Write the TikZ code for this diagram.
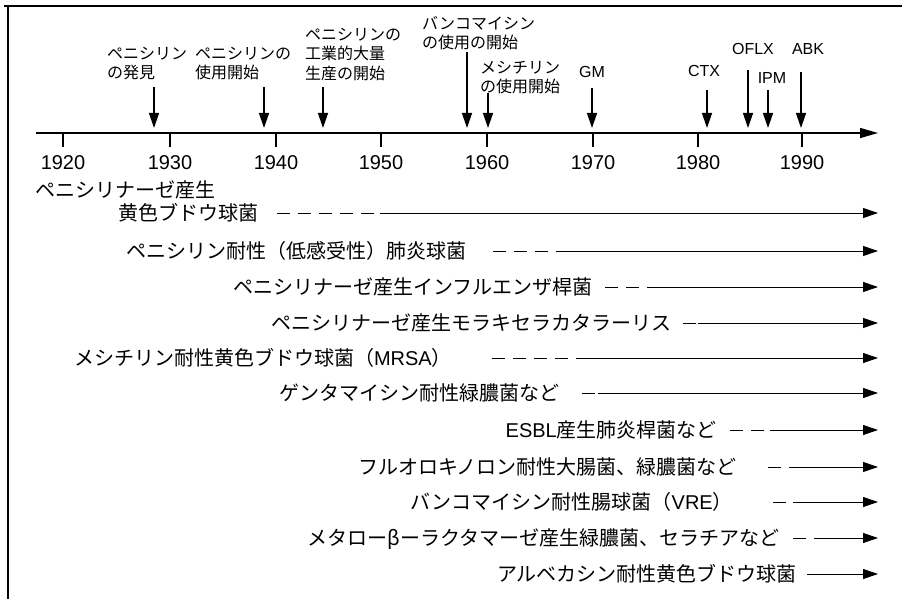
\documentclass[tikz,border=0pt]{standalone}
\usepackage{fontspec}
\setmainfont{Noto Sans CJK JP}
\newfontfamily\lat{Liberation Sans}
\usetikzlibrary{arrows.meta}
\begin{document}
\begin{tikzpicture}[x=1pt,y=-1pt,
  tipa/.style={-{Triangle[length=15pt,width=10pt]}},
  evarrow/.style={draw, line width=1.3pt, tipa},
  axisline/.style={draw, line width=1.4pt, -{Triangle[length=18pt,width=10pt]}},
  tick/.style={draw, line width=1.2pt},
  yearlab/.style={anchor=center, inner sep=0, font=\lat\fontsize{20}{23}\selectfont},
  rowlab/.style={anchor=base east, inner sep=0, font=\fontsize{20}{23}\selectfont},
  evlab/.style={anchor=north west, inner sep=0, align=left, font=\fontsize{16}{19.5}\selectfont},
  evlat/.style={anchor=center, inner sep=0, font=\lat\fontsize{16}{19}\selectfont},
  dashpart/.style={draw, line width=1pt, dash pattern=on 13pt off 8pt},
  solidpart/.style={draw, line width=1pt, -{Triangle[length=15pt,width=10pt]}},
  frameline/.style={draw, line width=1.2pt}
]
\useasboundingbox (0,0) rectangle (902,599);
% frame
\coordinate (fa) at (4,6);
\coordinate (fb) at (902,6);
\coordinate (fc) at (8,6);
\coordinate (fd) at (8,599);
\path[frameline] (fa) -- (fb);
\path[frameline] (fc) -- (fd);

% axis
\coordinate (ax0) at (36,133);
\coordinate (ax1) at (878,133);
\path[axisline] (ax0) -- (ax1);
\foreach \yr/\x in {1920/63,1930/170,1940/276,1950/381,1960/487,1970/593,1980/698,1990/802}{
  \coordinate (t\yr) at (\x,133);
  \coordinate (tb\yr) at (\x,147);
  \path[tick] (t\yr) -- (tb\yr);
  \node[yearlab] (y\yr) at (\x,163) {\yr};
}

% events
\node[evlab] (l1) at (107,47) {ペニシリン\\の発見};
\coordinate (a1s) at (154,87); \coordinate (a1e) at (154,128);
\path[evarrow] (a1s) -- (a1e);

\node[evlab] (l2) at (195,47) {ペニシリンの\\使用開始};
\coordinate (a2s) at (264,87); \coordinate (a2e) at (264,128);
\path[evarrow] (a2s) -- (a2e);

\node[evlab] (l3) at (305,28) {ペニシリンの\\工業的大量\\生産の開始};
\coordinate (a3s) at (323,87); \coordinate (a3e) at (323,128);
\path[evarrow] (a3s) -- (a3e);

\node[evlab] (l4) at (422,16) {バンコマイシン\\の使用の開始};
\coordinate (a4s) at (467,52); \coordinate (a4e) at (467,128);
\path[evarrow] (a4s) -- (a4e);

\node[evlab] (l5) at (480,61) {メシチリン\\の使用開始};
\coordinate (a5s) at (488,93); \coordinate (a5e) at (488,128);
\path[evarrow] (a5s) -- (a5e);

\node[evlat] (l6) at (592,72) {GM};
\coordinate (a6s) at (592,88); \coordinate (a6e) at (592,128);
\path[evarrow] (a6s) -- (a6e);

\node[evlat] (l7) at (704,71) {CTX};
\coordinate (a7s) at (707,90); \coordinate (a7e) at (707,128);
\path[evarrow] (a7s) -- (a7e);

\node[evlat] (l8) at (753,49) {OFLX};
\coordinate (a8s) at (748,70); \coordinate (a8e) at (748,128);
\path[evarrow] (a8s) -- (a8e);

\node[evlat] (l9) at (772,78) {IPM};
\coordinate (a9s) at (768,90); \coordinate (a9e) at (768,128);
\path[evarrow] (a9s) -- (a9e);

\node[evlat] (l10) at (808,49) {ABK};
\coordinate (a10s) at (801,72); \coordinate (a10e) at (801,128);
\path[evarrow] (a10s) -- (a10e);

% rows
\node[anchor=north west, inner sep=0, align=left, font=\fontsize{20}{23}\selectfont] (r1) at (35,180)
  {ペニシリナーゼ産生\\\hspace*{83pt}黄色ブドウ球菌};
\coordinate (r1a) at (277,213); \coordinate (r1b) at (380,213); \coordinate (r1c) at (878,213);
\path[dashpart] (r1a) -- (r1b); \path[solidpart] (r1b) -- (r1c);

\node[rowlab] (r2) at (467,258) {ペニシリン耐性（低感受性）肺炎球菌};
\coordinate (r2a) at (493,251); \coordinate (r2b) at (565,251); \coordinate (r2c) at (878,251);
\path[dashpart] (r2a) -- (r2b); \path[solidpart] (r2b) -- (r2c);

\node[rowlab] (r3) at (593,294) {ペニシリナーゼ産生インフルエンザ桿菌};
\coordinate (r3a) at (605,287); \coordinate (r3b) at (647,287); \coordinate (r3c) at (878,287);
\path[dashpart] (r3a) -- (r3b); \path[solidpart] (r3b) -- (r3c);

\node[rowlab] (r4) at (672,330) {ペニシリナーゼ産生モラキセラカタラーリス};
\coordinate (r4a) at (683,323); \coordinate (r4b) at (698,323); \coordinate (r4c) at (878,323);
\path[dashpart] (r4a) -- (r4b); \path[solidpart] (r4b) -- (r4c);

\node[rowlab] (r5) at (452,365) {メシチリン耐性黄色ブドウ球菌（{\lat MRSA}）};
\coordinate (r5a) at (492,358); \coordinate (r5b) at (578,358); \coordinate (r5c) at (878,358);
\path[dashpart] (r5a) -- (r5b); \path[solidpart] (r5b) -- (r5c);

\node[rowlab] (r6) at (560,400) {ゲンタマイシン耐性緑膿菌など};
\coordinate (r6a) at (582,393); \coordinate (r6b) at (598,393); \coordinate (r6c) at (878,393);
\path[dashpart] (r6a) -- (r6b); \path[solidpart] (r6b) -- (r6c);

\node[rowlab] (r7) at (717,437) {{\lat ESBL}産生肺炎桿菌など};
\coordinate (r7a) at (730,430); \coordinate (r7b) at (770,430); \coordinate (r7c) at (878,430);
\path[dashpart] (r7a) -- (r7b); \path[solidpart] (r7b) -- (r7c);

\node[rowlab] (r8) at (737,474) {フルオロキノロン耐性大腸菌、緑膿菌など};
\coordinate (r8a) at (768,467); \coordinate (r8b) at (793,467); \coordinate (r8c) at (878,467);
\path[dashpart] (r8a) -- (r8b); \path[solidpart] (r8b) -- (r8c);

\node[rowlab] (r9) at (733,509) {バンコマイシン耐性腸球菌（{\lat VRE}）};
\coordinate (r9a) at (773,502); \coordinate (r9b) at (793,502); \coordinate (r9c) at (878,502);
\path[dashpart] (r9a) -- (r9b); \path[solidpart] (r9b) -- (r9c);

\node[rowlab] (r10) at (780,545) {メタローβーラクタマーゼ産生緑膿菌、セラチアなど};
\coordinate (r10a) at (793,538); \coordinate (r10b) at (823,538); \coordinate (r10c) at (878,538);
\path[dashpart] (r10a) -- (r10b); \path[solidpart] (r10b) -- (r10c);

\node[rowlab] (r11) at (797,581) {アルベカシン耐性黄色ブドウ球菌};
\coordinate (r11a) at (807,574); \coordinate (r11b) at (820,574); \coordinate (r11c) at (878,574);
\path[dashpart] (r11a) -- (r11b); \path[solidpart] (r11b) -- (r11c);
\end{tikzpicture}
\end{document}
